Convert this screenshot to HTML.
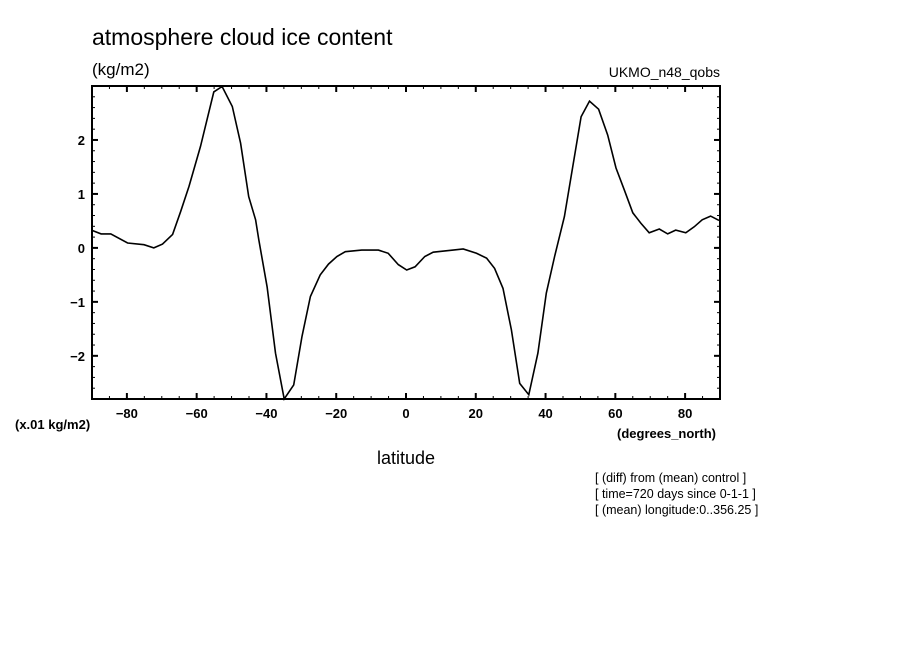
<!DOCTYPE html>
<html><head><meta charset="utf-8"><style>
body{margin:0;background:#fff;width:904px;height:654px;overflow:hidden}
svg text{font-family:"Liberation Sans",sans-serif;fill:#000}
</style></head><body>
<svg width="904" height="654">
<text x="92" y="45" font-size="23">atmosphere cloud ice content</text>
<text x="92" y="75" font-size="17">(kg/m2)</text>
<text x="720" y="77" font-size="14" text-anchor="end">UKMO_n48_qobs</text>
<g id="axes"></g>
<path id="series" fill="none" stroke="#000" stroke-width="1.6"/>
<text x="15" y="429" font-size="13" font-weight="bold">(x.01 kg/m2)</text>
<text x="617" y="438" font-size="13" font-weight="bold">(degrees_north)</text>
<text x="406" y="464" font-size="18" text-anchor="middle">latitude</text>
<text x="595" y="482" font-size="12.5">[ (diff) from (mean) control ]</text>
<text x="595" y="498" font-size="12.5">[ time=720 days since 0-1-1 ]</text>
<text x="595" y="514" font-size="12.5">[ (mean) longitude:0..356.25 ]</text>
</svg>
<script>
const lats=[-89.8,-87.4,-84.6,-79.8,-75.1,-72.3,-69.8,-66.9,-64.6,-62.2,-58.9,-55.1,-52.7,-49.8,-47.4,-45.1,-43.1,-42.2,-39.8,-37.4,-34.9,-32.2,-29.8,-27.4,-24.6,-22.2,-19.8,-17.4,-12.7,-7.9,-5.1,-2.2,0.2,2.6,5.4,7.8,13.5,16.4,20.2,23.1,25.4,27.8,30.2,32.6,35.2,37.8,40.2,42.6,45.4,47.8,50.2,52.6,55.2,57.8,60.2,62.6,65.0,67.3,69.7,72.6,75,77.3,80.2,82.6,84.9,87.3,89.7];
const values=[0.32,0.26,0.26,0.09,0.06,0.0,0.07,0.25,0.67,1.14,1.88,2.89,2.99,2.62,1.94,0.95,0.52,0.15,-0.72,-1.95,-2.8,-2.54,-1.64,-0.9,-0.5,-0.3,-0.16,-0.07,-0.04,-0.04,-0.1,-0.31,-0.41,-0.35,-0.16,-0.08,-0.04,-0.02,-0.1,-0.19,-0.38,-0.75,-1.52,-2.51,-2.72,-1.95,-0.84,-0.16,0.58,1.51,2.43,2.72,2.57,2.09,1.48,1.07,0.65,0.46,0.28,0.35,0.26,0.33,0.28,0.39,0.52,0.59,0.51];
const xTicks=[-80,-60,-40,-20,0,20,40,60,80];
const yTicks=[-2,-1,0,1,2];
const X0=92,X1=720,Y0=86,Y1=399,LMIN=-90,LMAX=90,VMIN=-2.8,VMAX=3.0;
const xs=v=>X0+(v-LMIN)/(LMAX-LMIN)*(X1-X0);
const ys=v=>Y1-(v-VMIN)/(VMAX-VMIN)*(Y1-Y0);
const NS="http://www.w3.org/2000/svg";
const g=document.getElementById('axes');
function ln(x1,y1,x2,y2,w,name){const l=document.createElementNS(NS,'line');l.setAttribute('x1',x1);l.setAttribute('y1',y1);l.setAttribute('x2',x2);l.setAttribute('y2',y2);l.setAttribute('stroke','#000');l.setAttribute('stroke-width',w);


g.appendChild(l);}
function tx(x,y,s,anchor,name){const t=document.createElementNS(NS,'text');t.setAttribute('x',x);t.setAttribute('y',y);t.setAttribute('font-size','13');t.setAttribute('font-weight','bold');t.setAttribute('text-anchor',anchor);t.textContent=s;


g.appendChild(t);}
const r=document.createElementNS(NS,'rect');r.setAttribute('x',X0);r.setAttribute('y',Y0);r.setAttribute('width',X1-X0);r.setAttribute('height',Y1-Y0);r.setAttribute('fill','none');r.setAttribute('stroke','#000');r.setAttribute('stroke-width','2');


g.appendChild(r);
for(let v=-85;v<90;v+=5){const x=xs(v);const m=(v%20===0);const L=m?6:3;ln(x,Y0,x,Y0+L,m?2:1,'x-tick');ln(x,Y1,x,Y1-L,m?2:1,'x-tick');}
for(let i=-14;i<=15;i++){const v=i/5;const y=ys(v);const m=(i%5===0);const L=m?6:3;ln(X0,y,X0+L,y,m?2:1,'y-tick');ln(X1,y,X1-L,y,m?2:1,'y-tick');}
xTicks.forEach(v=>tx(xs(v),418,String(v).replace('-','\u2212'),'middle','x-tick-label'));
yTicks.forEach(v=>tx(85,ys(v)+5,String(v).replace('-','\u2212'),'end','y-tick-label'));
document.getElementById('series').setAttribute('d',lats.map((l,i)=>(i?'L':'M')+xs(l).toFixed(1)+','+ys(values[i]).toFixed(1)).join(''));
</script>
</body></html>
